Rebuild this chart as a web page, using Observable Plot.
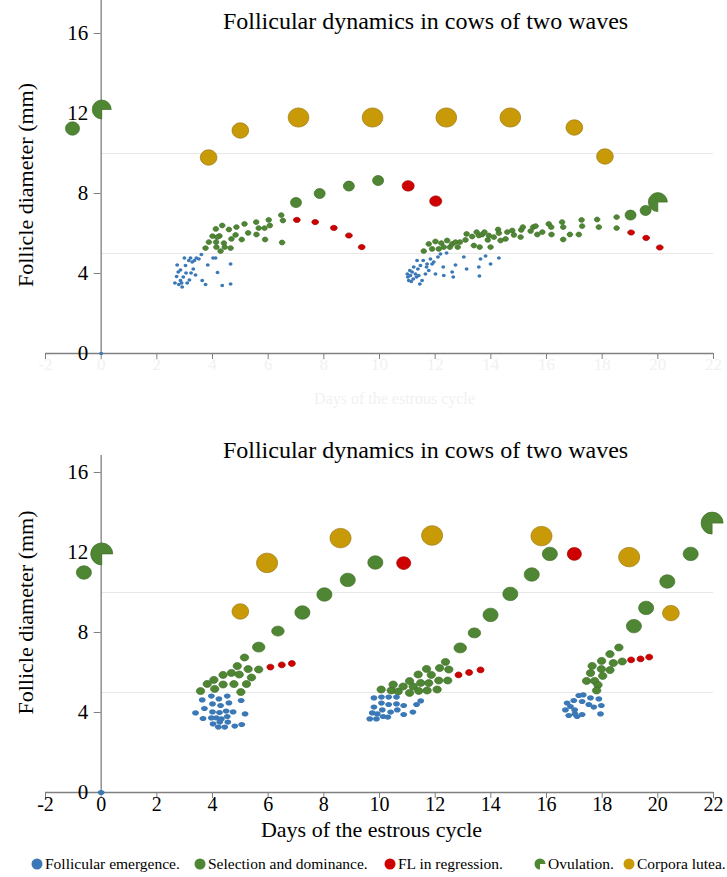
<!DOCTYPE html>
<html>
<head>
<meta charset="utf-8">
<script src="https://cdn.jsdelivr.net/npm/d3@7"></script>
<script src="https://cdn.jsdelivr.net/npm/@observablehq/plot@0.6"></script>
<style>
  body { margin: 0; background: #fff; }
  #chart { position: relative; width: 727px; height: 877px; font-family: "Liberation Serif", "Times New Roman", serif; }
  #chart svg { display: block; }
  #legend { position: absolute; left: 0; top: 853px; width: 727px; height: 22px; font-size: 15.5px; color: #000; font-family: "Liberation Serif", "Times New Roman", serif; }
  .item { position: absolute; top: 0; height: 22px; display: flex; align-items: center; white-space: nowrap; }
  .item svg { margin-right: 2px; }
</style>
</head>
<body>
<div id="chart"></div>
<script>
// ---------- texts & ticks ----------
const chartTitle = "Follicular dynamics in cows of two waves";
const xLabel = "Days of the estrous cycle";
const yLabel = "Follicle diameter (mm)";
const xTicks = [-2, 0, 2, 4, 6, 8, 10, 12, 14, 16, 18, 20, 22];
const yTicks = [0, 4, 8, 12, 16];
const gridValues = [5, 10];
const legendLabels = ["Follicular emergence.", "Selection and dominance.", "FL in regression.", "Ovulation.", "Corpora lutea."];

// ---------- TOP panel data: [day, diameter mm] ----------
const topEmergence = [
  [0, 0],
  [2.65,3.53],[2.71,3.85],[2.73,4.43],[2.77,4.07],[2.79,3.45],[2.85,4.18],[2.89,3.52],[2.95,3.82],[2.99,4.77],[3.03,4.4],
  [3.09,3.53],[3.05,4.02],[3.17,3.68],[3.21,4.77],[3.23,4.02],[3.27,4.57],[3.31,4.23],[3.35,4.65],[3.39,3.93],[3.42,4.78],
  [3.51,4.73],[3.6,4.95],[3.63,3.65],[3.75,3.45],[3.83,4.43],[4.02,4.77],[4.11,4.78],[4.18,4.05],[4.35,3.4],[4.65,4.48],
  [4.65,3.48],[2.85,3.65],[3.15,4.65],[2.91,3.32],
  [11.0,3.98],[11.02,3.82],[11.05,3.65],[11.09,4.15],[11.11,3.9],[11.14,3.6],[11.17,4.07],[11.21,3.73],[11.23,4.32],[11.29,3.98],
  [11.33,3.82],[11.35,4.65],[11.38,4.23],[11.41,3.9],[11.45,3.48],[11.47,4.4],[11.53,3.65],[11.57,4.65],[11.65,3.98],[11.69,4.32],
  [11.71,4.48],[11.77,4.15],[11.83,4.73],[11.89,4.48],[11.95,4.57],[12.01,3.98],[12.1,4.82],[12.19,4.98],[12.29,4.32],[12.31,3.9],
  [12.41,5.02],[12.61,4.07],[12.65,3.82],[12.73,4.43],[13.03,4.82],[13.13,4.23],[13.57,4.32],[13.59,3.87],[13.63,4.73],[13.81,4.87],
  [13.99,4.48],[14.29,4.77]
];
const topSelection = [
  [3.75,5.27],[3.87,5.57],[4.0,5.87],[4.12,6.23],[4.13,5.57],[4.14,5.32],[4.29,5.12],[4.25,5.88],[4.35,6.4],[4.41,5.52],
  [4.44,5.32],[4.59,6.2],[4.65,5.27],[4.68,5.73],[4.83,5.93],[4.86,6.32],[5.05,5.7],[5.15,6.48],[5.28,6.03],[5.57,6.57],
  [5.58,5.95],[5.66,6.27],[5.87,6.27],[5.89,5.7],[6.02,6.68],[6.06,6.4],[6.47,6.92],[6.5,5.55],[6.53,6.65],[4.17,5.82],
  [11.59,5.12],[11.77,5.48],[11.89,5.23],[12.01,5.6],[12.13,5.23],[12.22,5.52],[12.31,5.32],[12.43,5.65],[12.53,5.32],[12.61,5.48],
  [12.73,5.57],[12.81,5.32],[12.89,5.57],[13.09,5.68],[13.13,5.98],[13.33,5.85],[13.39,5.4],[13.49,6.07],[13.57,5.9],[13.6,5.32],
  [13.69,5.95],[13.77,6.07],[13.89,5.68],[13.93,5.9],[13.99,5.32],[14.11,5.82],[14.26,6.2],[14.29,6.02],[14.35,5.65],[14.53,5.73],
  [14.59,6.07],[14.77,6.15],[14.83,5.93],[15.07,5.82],[15.09,6.18],[15.15,6.32],[15.43,6.12],[15.52,6.32],[15.61,6.37],[15.67,5.95],
  [15.85,6.07],[16.08,6.48],[16.17,6.32],[16.18,5.95],[16.56,6.57],[16.6,6.32],[16.6,5.7],[16.84,5.95],[17.16,5.95],[17.26,6.68],
  [17.28,6.37],[17.82,6.7],[17.88,6.32],[18.52,6.82],[18.52,6.27]
];
const topDominant = [[7.0,7.55],[7.85,8.0],[8.9,8.37],[9.95,8.65],[19.02,6.92],[19.56,7.15]];
const topPreviousFollicle = [[-1.03,11.25]];
const topRegression = [[7.03,6.68],[7.69,6.57],[8.36,6.28],[8.9,5.9],[9.36,5.32],[19.04,6.05],[19.58,5.78],[20.07,5.3]];
const topRegressionDominant = [[11.03,8.38],[12.02,7.62]];
const topOvulation = [[0.02,12.2],[20.0,7.57]];
const topLuteaLarge = [[7.09,11.8],[9.75,11.8],[12.4,11.8],[14.7,11.8]];
const topLuteaSmall = [[3.86,9.8],[5.0,11.15],[17.0,11.3],[18.1,9.85]];

// ---------- BOTTOM panel data: [day, diameter mm] ----------
const botEmergence = [
  [0, 0],
  [3.39,3.98],[3.63,4.63],[3.66,3.7],[3.71,4.2],[3.96,4.82],[4.0,4.43],[4.0,4.03],[3.96,3.73],[4.02,3.43],[4.23,4.68],
  [4.25,4.0],[4.29,4.35],[4.32,3.68],[4.26,3.52],[4.21,3.27],[4.44,3.27],[4.53,4.82],[4.49,4.07],[4.59,4.48],[4.53,3.8],
  [4.55,3.52],[4.74,4.03],[4.8,3.32],[5.03,4.6],[5.05,3.4],[5.17,3.93],[4.14,3.73],
  [9.65,3.68],[9.74,3.98],[9.8,4.27],[9.8,4.73],[9.89,3.68],[9.92,3.93],[10.07,4.77],[10.07,4.47],[10.1,4.13],[10.13,3.8],
  [10.33,4.77],[10.33,4.4],[10.3,3.77],[10.4,4.02],[10.61,4.77],[10.61,4.43],[10.64,4.13],[10.87,4.35],[10.87,3.9],[11.2,4.02],
  [11.33,4.4],[11.48,4.58],
  [16.68,4.13],[16.74,4.47],[16.8,3.85],[16.86,4.3],[16.98,4.6],[17.01,4.13],[17.1,3.8],[17.16,4.85],[17.28,4.55],[17.28,3.9],
  [17.32,4.88],[17.52,4.4],[17.58,4.73],[17.7,4.27],[17.88,4.68],[17.94,3.93],[17.97,4.35],[17.02,3.93]
];
const botSelection = [
  [3.57,5.07],[3.81,5.43],[4.05,5.63],[4.08,5.18],[4.38,5.88],[4.38,5.4],[4.68,5.98],[4.77,5.42],[4.89,6.32],[4.96,5.9],
  [5.02,5.02],[5.15,6.75],[5.22,5.42],[5.28,6.17],[5.4,5.75],[5.66,6.15],
  [10.06,5.15],[10.42,5.1],[10.49,5.4],[10.67,5.05],[10.85,5.3],[11.08,5.57],[11.08,4.98],[11.21,5.3],[11.39,5.9],[11.41,5.08],
  [11.48,5.48],[11.69,6.18],[11.71,5.1],[11.77,5.47],[11.86,5.88],[12.07,5.15],[12.13,5.6],[12.16,6.22],[12.37,6.53],[12.45,5.6],
  [12.49,6.15],
  [17.44,5.58],[17.58,5.97],[17.73,5.58],[17.85,5.38],[17.64,6.33],[17.97,6.17],[17.98,6.58],[18.02,5.83],[17.8,5.1],[18.28,6.92],
  [18.28,6.12],[18.4,6.47],[18.6,7.25],[18.72,6.55]
];
const botDominantEarly = [[5.66,7.27],[6.35,8.07],[12.9,7.23],[13.41,7.98]];
const botDominantLate = [
  [-0.62,11.0],[7.23,9.0],[8.02,9.9],[8.86,10.63],[9.85,11.5],
  [13.99,8.88],[14.7,9.93],[15.47,10.9],[16.12,11.93],
  [19.14,8.32],[19.58,9.23],[20.34,10.55],[21.18,11.93]
];
const botRegression = [[6.08,6.27],[6.49,6.38],[6.85,6.45],[12.84,5.88],[13.22,6.0],[13.63,6.13],[19.04,6.63],[19.38,6.68],[19.69,6.77]];
const botRegressionDominant = [[10.87,11.47],[17.0,11.93]];
const botOvulation = [[0.02,11.93],[21.95,13.47]];
const botLuteaLarge = [[5.96,11.48],[8.6,12.72],[11.89,12.85],[15.82,12.82],[18.97,11.77]];
const botLuteaSmall = [[5.0,9.05],[20.47,8.97]];

// ---------- styles ----------
const FONT = '"Liberation Serif", "Times New Roman", serif';
const BLUE = "#3b78b6", GREEN = "#4f8634", RED = "#cf0000", GOLD = "#c99a08";
const GREEN_S = "#3f6e28", RED_S = "#a30000", GOLD_S = "#9a7710";
const AXIS = "#808080";

function ellipse(aspect) {
  return {
    draw(ctx, size) {
      const rx = Math.sqrt(size / Math.PI), ry = rx / aspect, k = 0.5523;
      ctx.moveTo(rx, 0);
      ctx.bezierCurveTo(rx, ry * k, rx * k, ry, 0, ry);
      ctx.bezierCurveTo(-rx * k, ry, -rx, ry * k, -rx, 0);
      ctx.bezierCurveTo(-rx, -ry * k, -rx * k, -ry, 0, -ry);
      ctx.bezierCurveTo(rx * k, -ry, rx, -ry * k, rx, 0);
      ctx.closePath();
    }
  };
}
const pacman = {
  draw(ctx, size) {
    const r = Math.sqrt(size / Math.PI);
    ctx.moveTo(0, 0);
    ctx.lineTo(0, r);
    ctx.arc(0, 0, r, Math.PI / 2, 2 * Math.PI);
    ctx.closePath();
  }
};

function dots(data, r, aspect, fill, stroke) {
  return Plot.dot(data, {x: d => d[0], y: d => d[1], r, symbol: ellipse(aspect), fill, stroke: stroke || "none", strokeWidth: 0.7});
}

function frameMarks(o) {
  return [
    Plot.ruleY(gridValues, {x1: 0, x2: 22, stroke: "#e8e8e8", strokeWidth: 1}),
    Plot.ruleY([0], {stroke: AXIS, strokeWidth: 1.3}),
    Plot.ruleX([0], {y1: 0, y2: o.yTop, stroke: AXIS, strokeWidth: 1.3}),
    Plot.axisX(xTicks, {tickSize: 6, tickPadding: -2, fontSize: o.tickFont, stroke: AXIS, fill: o.tickColor, label: null, tickFormat: d => String(d)}),
    Plot.ruleY(yTicks, {x1: -0.25, x2: 0, stroke: AXIS, strokeWidth: 1}),
    Plot.text(yTicks, {x: 0, y: d => d, dx: -13, textAnchor: "end", fontSize: 21, fill: "#000"}),
    Plot.text([chartTitle], {frameAnchor: "top", textAnchor: "middle", lineAnchor: "middle", dx: 46, dy: o.titleDy, fontSize: 24, fill: "#000"}),
    Plot.text([yLabel], {frameAnchor: "left", textAnchor: "middle", lineAnchor: "middle", rotate: -90, dx: -20, dy: o.yLabelDy, fontSize: 22, fill: "#000"}),
    Plot.text([xLabel], {frameAnchor: "bottom", textAnchor: "middle", lineAnchor: "middle", dx: o.xLabelDx, dy: o.xLabelDy, fontSize: o.xLabelFont, fill: o.tickColor})
  ];
}

const common = {
  width: 727, marginLeft: 45, marginRight: 14,
  x: {domain: [-2, 22], axis: null},
  style: {fontFamily: FONT, background: "transparent", overflow: "visible", color: "#000"}
};

const topChart = Plot.plot({
  ...common,
  height: 410, marginTop: 0, marginBottom: 57,
  y: {domain: [0, 17.65], axis: null},
  marks: [
    ...frameMarks({yTop: 17.65, tickFont: 17, tickColor: "#f1f1f1", titleDy: 21, yLabelDy: 8, xLabelDx: 15, xLabelDy: 45, xLabelFont: 16}),
    dots(topLuteaSmall, 8.3, 1.08, GOLD, GOLD_S),
    dots(topLuteaLarge, 10.3, 1.08, GOLD, GOLD_S),
    dots(topPreviousFollicle, 7, 1.05, GREEN, GREEN_S),
    dots(topDominant, 5.5, 1.1, GREEN, GREEN_S),
    dots(topRegressionDominant, 6, 1.15, RED, RED_S),
    dots(topRegression, 3.4, 1.3, RED, RED_S),
    dots(topSelection, 2.8, 1.15, GREEN, GREEN_S),
    dots(topEmergence, 1.9, 1.1, BLUE),
    Plot.dot(topOvulation, {x: d => d[0], y: d => d[1], r: 9.5, symbol: pacman, fill: GREEN, stroke: GREEN_S, strokeWidth: 0.7})
  ]
});

const bottomChart = Plot.plot({
  ...common,
  height: 435, marginTop: 42, marginBottom: 53,
  y: {domain: [0, 17], axis: null},
  marks: [
    ...frameMarks({yTop: 16.85, tickFont: 20, tickColor: "#000", titleDy: -2, yLabelDy: -10, xLabelDx: -8, xLabelDy: 37, xLabelFont: 22}),
    dots(botLuteaSmall, 8.3, 1.08, GOLD, GOLD_S),
    dots(botLuteaLarge, 10.5, 1.08, GOLD, GOLD_S),
    dots(botDominantLate, 7.5, 1.12, GREEN, GREEN_S),
    dots(botDominantEarly, 6.2, 1.25, GREEN, GREEN_S),
    dots(botRegressionDominant, 7, 1.1, RED, RED_S),
    dots(botRegression, 3.5, 1.2, RED, RED_S),
    dots(botSelection, 4.2, 1.2, GREEN, GREEN_S),
    dots(botEmergence, 3.4, 1.3, BLUE),
    Plot.dot(botOvulation, {x: d => d[0], y: d => d[1], r: 11, symbol: pacman, fill: GREEN, stroke: GREEN_S, strokeWidth: 0.7})
  ]
});

const chart = document.getElementById("chart");
chart.appendChild(topChart);
chart.appendChild(bottomChart);

// ---------- legend ----------
const legend = document.createElement("div");
legend.id = "legend";
const legendStyle = [
  {left: 31, kind: "dot", fill: BLUE},
  {left: 194, kind: "dot", fill: GREEN},
  {left: 384, kind: "dot", fill: RED},
  {left: 534, kind: "ovulation", fill: GREEN},
  {left: 623, kind: "dot", fill: GOLD}
];
legendLabels.forEach((label, i) => {
  const s = legendStyle[i];
  const item = document.createElement("div");
  item.className = "item";
  item.style.left = s.left + "px";
  const shape = s.kind === "dot"
    ? `<circle cx="6" cy="6" r="5.5" fill="${s.fill}"/>`
    : `<path d="M6,6 L6,11.5 A5.5,5.5 0 1 1 11.5,6 Z" fill="${s.fill}"/>`;
  item.innerHTML = `<svg width="12" height="12" viewBox="0 0 12 12">${shape}</svg><span>${label}</span>`;
  legend.appendChild(item);
});
chart.appendChild(legend);
</script>
</body>
</html>
